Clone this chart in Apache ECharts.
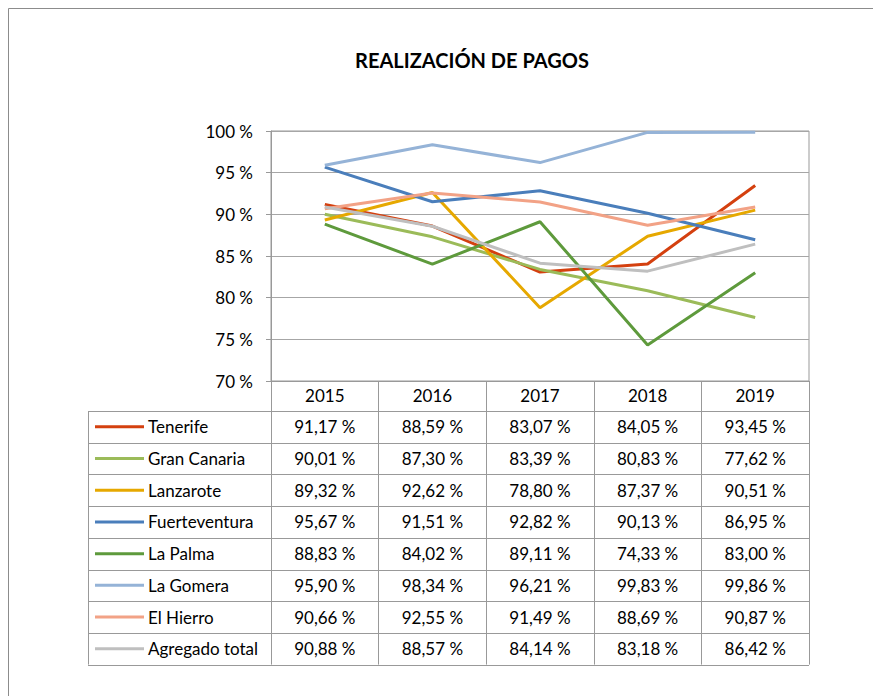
<!DOCTYPE html>
<html>
<head>
<meta charset="utf-8">
<script src="https://cdn.jsdelivr.net/npm/echarts@6/dist/echarts.min.js"></script>
<style>
  html, body { margin: 0; padding: 0; background: #fff; }
  #chart { width: 873px; height: 696px; }
</style>
</head>
<body>
<div id="chart"></div>
<script>
// datos
const years = ["2015", "2016", "2017", "2018", "2019"];
const islands = ["Tenerife", "Gran Canaria", "Lanzarote", "Fuerteventura", "La Palma", "La Gomera", "El Hierro", "Agregado total"];
const tenerife = [91.17, 88.59, 83.07, 84.05, 93.45];
const granCanaria = [90.01, 87.30, 83.39, 80.83, 77.62];
const lanzarote = [89.32, 92.62, 78.80, 87.37, 90.51];
const fuerteventura = [95.67, 91.51, 92.82, 90.13, 86.95];
const laPalma = [88.83, 84.02, 89.11, 74.33, 83.00];
const laGomera = [95.90, 98.34, 96.21, 99.83, 99.86];
const elHierro = [90.66, 92.55, 91.49, 88.69, 90.87];
const agregado = [90.88, 88.57, 84.14, 83.18, 86.42];
const seriesValues = [tenerife, granCanaria, lanzarote, fuerteventura, laPalma, laGomera, elHierro, agregado];
const colors = ["#d4400f", "#9bbb59", "#e6a800", "#4a7ebb", "#5e9a3c", "#95b3d7", "#f2a286", "#bfbfbf"];

// layout
const GRID_L = 271, GRID_T = 131, GRID_R = 809, GRID_B = 381;
const TABLE_L = 88, HEADER_H = 30, ROW_H = 31.7;
const FONT = "Lato";
const FS = 17;
const GRAY = "#999999";

const myChart = echarts.init(document.getElementById("chart"), null, { renderer: "svg" });

const fmt = (v) => v.toFixed(2).replace(".", ",") + " %";

const option = {
  animation: false,
  textStyle: { fontFamily: FONT },
  grid: {
    left: GRID_L,
    top: GRID_T,
    right: 873 - GRID_R,
    bottom: 696 - GRID_B,
    show: true,
    borderColor: GRAY,
    borderWidth: 1,
  },
  xAxis: {
    type: "category",
    data: years,
    boundaryGap: true,
    axisLine: { show: true, lineStyle: { color: GRAY } },
    // las marcas largas hacen de separadores de columnas de la tabla
    axisTick: { show: true, length: HEADER_H + ROW_H * islands.length, lineStyle: { color: GRAY } },
    axisLabel: { margin: 6, fontSize: FS, color: "#000", fontFamily: FONT },
  },
  yAxis: {
    type: "value",
    min: 70,
    max: 100,
    interval: 5,
    axisLine: { show: true, lineStyle: { color: GRAY } },
    axisTick: { show: true, length: 5, lineStyle: { color: GRAY } },
    axisLabel: { formatter: "{value} %", margin: 18, fontSize: FS, color: "#000", fontFamily: FONT },
    splitLine: { lineStyle: { color: "#a6a6a6" } },
  },
  series: islands.map((name, i) => ({
    name,
    type: "line",
    data: seriesValues[i],
    symbol: "none",
    lineStyle: { width: 3, color: colors[i] },
    itemStyle: { color: colors[i] },
  })),
};

myChart.setOption(option);

// título y tabla de datos bajo el gráfico
const graphic = [];
graphic.push({
  type: "rect",
  shape: { x: 8.5, y: 8.5, width: 900, height: 900 },
  style: { fill: null, stroke: "#8c8c8c", lineWidth: 1 },
  silent: true,
  z: 0,
});
graphic.push({
  type: "text",
  x: 472,
  y: 60,
  style: {
    text: "REALIZACIÓN DE PAGOS",
    fontFamily: FONT, fontSize: 20, fontWeight: "bold", fill: "#000",
    align: "center", verticalAlign: "middle",
  },
});
const tableTop = GRID_B + HEADER_H;
const tableBottom = tableTop + ROW_H * islands.length;
graphic.push({
  type: "line",
  shape: { x1: TABLE_L + 0.5, y1: tableTop, x2: TABLE_L + 0.5, y2: tableBottom },
  style: { stroke: GRAY, lineWidth: 1 },
});
for (let r = 0; r <= islands.length; r++) {
  const y = Math.round(tableTop + r * ROW_H) + 0.5;
  graphic.push({
    type: "line",
    shape: { x1: TABLE_L, y1: y, x2: GRID_R, y2: y },
    style: { stroke: GRAY, lineWidth: 1 },
  });
}
islands.forEach((name, r) => {
  const cy = tableTop + r * ROW_H + ROW_H / 2;
  graphic.push({
    type: "line",
    shape: { x1: 95, y1: cy, x2: 144, y2: cy },
    style: { stroke: colors[r], lineWidth: 3 },
  });
  graphic.push({
    type: "text",
    x: 148,
    y: cy,
    style: { text: name, fontFamily: FONT, fontSize: FS, fill: "#000", align: "left", verticalAlign: "middle" },
  });
  seriesValues[r].forEach((v, c) => {
    const cx = myChart.convertToPixel({ xAxisIndex: 0 }, c);
    graphic.push({
      type: "text",
      x: cx,
      y: cy,
      style: { text: fmt(v), fontFamily: FONT, fontSize: FS, fill: "#000", align: "center", verticalAlign: "middle" },
    });
  });
});

myChart.setOption({ graphic });
</script>
</body>
</html>
